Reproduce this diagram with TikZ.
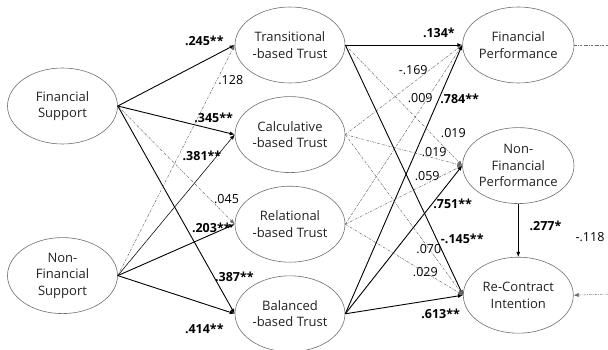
\documentclass[tikz,border=0pt]{standalone}
\usepackage{fontspec}
\setmainfont{Open Sans}
\usepackage{tikz}
\usetikzlibrary{arrows.meta, positioning, shapes.geometric}
\definecolor{cEdge}{HTML}{6E6E6E}
\definecolor{cText}{HTML}{222222}
\definecolor{cDash}{HTML}{6A6A6A}

\begin{document}
\begin{tikzpicture}[x=1pt, y=-1pt, node distance=13pt and 117pt,
  every node/.style={font=\fontsize{13}{16.5}\selectfont},
  ell/.style={ellipse, draw=cEdge, line width=0.6pt, align=center, text=cText, minimum width=110pt, minimum height=76pt, inner sep=0pt},
  sig/.style={-{Latex[length=5pt,width=4pt]}, line width=0.9pt},
  nsig/.style={-{Latex[length=5pt,width=4pt]}, cDash, line width=0.5pt, dash pattern=on 2.5pt off 1.2pt on 0.6pt off 1.2pt},
  lbl/.style={font=\fontsize{12.5}{14}\selectfont, inner sep=1pt, text=black},
  slbl/.style={lbl, font=\fontsize{12.5}{14}\selectfont\bfseries}]
  \useasboundingbox (0,0) rectangle (608,350);
  % predictors
  \node[ell] (fs) at (62.5,106) {Financial\\Support};
  \node[ell, below=93pt of fs] (nfs) {Non-\\Financial\\Support};
  % trust types
  \node[ell] (trans) at (290,45) {Transitional\\-based Trust};
  \node[ell, below=of trans] (calc) {Calculative\\-based Trust};
  \node[ell, below=of calc] (rel) {Relational\\-based Trust};
  \node[ell, below=of rel] (bal) {Balanced\\-based Trust};
  % outcomes
  \node[ell, right=of trans] (fp) {Financial\\Performance};
  \node[ell, below=44pt of fp] (nfp) {Non-\\Financial\\Performance};
  \node[ell, below=53pt of nfp] (rci) {Re-Contract\\Intention};
  \coordinate (fpout) at (608,45);
  \coordinate (rciout) at (608,294);

  % support -> trust
  \draw[sig] (fs.east) -- node[slbl, pos=.74, above=13.5pt]{.245**} (trans.west);
  \draw[sig] (fs.east) -- node[slbl, pos=.82, above=5pt]{.345**} (calc.west);
  \draw[nsig] (fs.east) -- node[lbl, pos=.93, above=11pt]{.045} (rel.west);
  \draw[sig] (fs.east) -- node[slbl, pos=.82, right=0pt]{.387**} (bal.west);
  \draw[nsig] (nfs.east) -- node[lbl, pos=.85, right=0pt]{.128} (trans.west);
  \draw[sig, line width=0.55pt] (nfs.east) -- node[slbl, pos=.72, above=12.5pt]{.381**} (calc.west);
  \draw[sig] (nfs.east) -- node[slbl, pos=.8, above=0.5pt]{.203**} (rel.west);
  \draw[sig] (nfs.east) -- node[slbl, pos=.74, below=18.5pt]{.414**} (bal.west);

  % trust -> outcomes
  \draw[sig] (trans.east) -- node[slbl, pos=.8, above=6pt]{.134*} (fp.west);
  \draw[nsig] (calc.east) -- node[lbl, pos=.58, above=6.5pt]{-.169} (fp.west);
  \draw[nsig] (rel.east) -- node[lbl, pos=.64, above=6pt]{.009} (fp.west);
  \draw[sig] (bal.east) -- node[slbl, pos=.8, right=0pt]{.784**} (fp.west);
  \draw[nsig] (trans.east) -- node[lbl, pos=.73, right=9pt]{.019} (nfp.west);
  \draw[nsig] (calc.east) -- node[lbl, pos=.76, above=0pt]{.019} (nfp.west);
  \draw[nsig] (rel.east) -- node[lbl, pos=.7, above=1.5pt]{.059} (nfp.west);
  \draw[sig] (bal.east) -- node[slbl, pos=.74, right=0pt]{.751**} (nfp.west);
  \draw[sig] (trans.east) -- node[slbl, pos=.775, right=3pt]{-.145**} (rci.west);
  \draw[nsig] (calc.east) -- node[lbl, pos=.71]{.070} (rci.west);
  \draw[nsig] (rel.east) -- node[lbl, pos=.68]{.029} (rci.west);
  \draw[sig] (bal.east) -- node[slbl, pos=.81, below=8.5pt]{.613**} (rci.west);

  \draw[sig, line width=0.6pt] (nfp.south) -- node[slbl, pos=.42, right=10pt]{.277*} (rci.north);
  \draw[nsig, -] (fp.east) -- (fpout);
  \draw[nsig] (rciout) -- (rci.east);
  \node[lbl] (cov) at (590,237) {-.118};
\end{tikzpicture}
\end{document}
